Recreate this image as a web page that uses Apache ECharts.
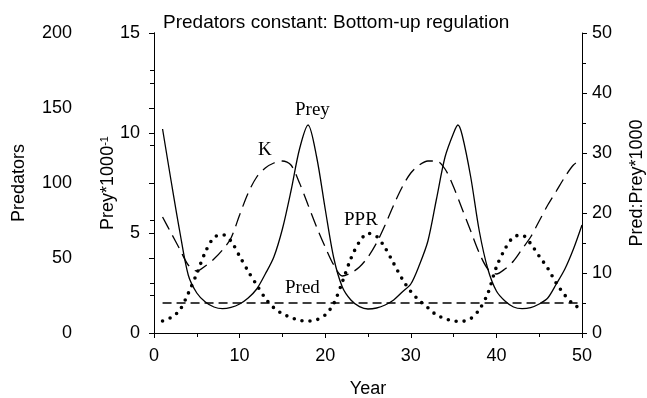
<!DOCTYPE html>
<html>
<head>
<meta charset="utf-8">
<title>Predators constant: Bottom-up regulation</title>
<script src="https://cdn.jsdelivr.net/npm/echarts@6/dist/echarts.min.js"></script>
<style>
  html, body { margin: 0; padding: 0; background: #fff; }
  #chart { width: 647px; height: 398px; }
</style>
</head>
<body>
<div id="chart"></div>
<script>
// values
var years = [1, 2, 3, 4, 5, 6, 7, 8, 9, 10, 11, 12, 13, 14, 15, 16, 17, 18, 19, 20,
  21, 22, 23, 24, 25, 26, 27, 28, 29, 30, 31, 32, 33, 34, 35, 36, 37, 38, 39, 40,
  41, 42, 43, 44, 45, 46, 47, 48, 49, 50];

// prey has an extra sample at its second, sharp peak
var preyYears = [1, 2, 3, 4, 5, 6, 7, 8, 9, 10, 11, 12, 13, 14, 15, 16, 17, 18, 19, 20,
  21, 22, 23, 24, 25, 26, 27, 28, 29, 30, 31, 32, 33, 34, 35, 35.5, 36, 37, 38, 39, 40,
  41, 42, 43, 44, 45, 46, 47, 48, 49, 50];

// Prey*1000^-1
var prey = [10.2, 7.6, 5.1, 2.9, 2.0, 1.55, 1.3, 1.22, 1.28, 1.45,
  1.75, 2.2, 2.95, 3.8, 5.2, 7.1, 9.2, 10.4, 8.8, 6.2,
  3.75, 2.3, 1.65, 1.32, 1.2, 1.25, 1.4, 1.65, 2.05, 2.45,
  3.4, 4.6, 6.7, 8.8, 10.0, 10.4, 9.9, 7.8, 5.1, 3.2, 2.1,
  1.6, 1.3, 1.22, 1.27, 1.45, 1.75, 2.45, 3.2, 4.2, 5.4];

// K, same scale as prey
var capacity = [5.8, 5.0, 4.2, 3.4, 3.1, 3.35, 3.7, 4.15, 4.75, 5.9,
  7.0, 7.8, 8.25, 8.5, 8.6, 8.4, 7.5, 6.4, 5.3, 4.3,
  3.4, 2.85, 3.0, 3.3, 3.8, 4.5, 5.4, 6.4, 7.3, 8.0,
  8.4, 8.6, 8.6, 8.2, 7.3, 6.2, 5.1, 4.0, 3.2, 2.95,
  3.2, 3.6, 4.2, 4.8, 5.6, 6.4, 7.1, 7.8, 8.4, 8.7];

// PPR, Pred:Prey*1000 (right axis)
var ppr = [2.0, 2.6, 3.8, 6.6, 9.9, 13.5, 15.9, 16.4, 15.3, 12.8,
  10.3, 8.0, 5.8, 4.2, 3.2, 2.6, 2.1, 2.0, 2.2, 3.0,
  4.9, 8.5, 12.4, 15.2, 16.6, 16.1, 14.2, 11.6, 9.0, 6.9,
  5.4, 4.2, 3.0, 2.4, 2.0, 1.95, 2.4, 3.9, 6.6, 11.0,
  14.0, 16.0, 16.3, 14.9, 12.8, 10.8, 8.3, 6.3, 4.8, 3.9];

// Predators, constant
var predYears = [1, 50];
var pred = [20, 20];

function pairs(xs, ys) {
  return xs.map(function (x, i) { return [x, ys[i]]; });
}

var sans = 'Liberation Sans, Arial, sans-serif';
var serif = 'Liberation Serif, Times New Roman, serif';

function yAxis(min, max, interval, extra) {
  var ax = {
    type: 'value',
    min: min,
    max: max,
    interval: interval,
    nameLocation: 'middle',
    nameRotate: 90,
    nameMoveOverlap: false,
    nameTextStyle: { color: '#000', fontFamily: sans, fontSize: 18 },
    axisLine: { show: true, lineStyle: { color: '#000', width: 1 } },
    axisTick: { show: true, length: 5, lineStyle: { color: '#000' } },
    minorTick: { show: true, splitNumber: 2, length: 4, lineStyle: { color: '#000' } },
    splitLine: { show: false },
    axisLabel: { color: '#000', fontFamily: sans, fontSize: 18 }
  };
  for (var k in extra) ax[k] = extra[k];
  return ax;
}

var chart = echarts.init(document.getElementById('chart'));

chart.setOption({
  backgroundColor: '#fff',
  animation: false,
  title: {
    text: 'Predators constant: Bottom-up regulation',
    left: 158,
    top: 8,
    textStyle: { color: '#000', fontFamily: sans, fontSize: 19, fontWeight: 'normal' }
  },
  grid: { left: 154, right: 65, top: 33, bottom: 65, outerBoundsMode: 'none', containLabel: false },
  xAxis: {
    type: 'value',
    min: 0,
    max: 50,
    interval: 10,
    name: 'Year',
    nameLocation: 'middle',
    nameGap: 47,
    nameTextStyle: { color: '#000', fontFamily: sans, fontSize: 18 },
    axisLine: { show: true, onZero: false, lineStyle: { color: '#000', width: 1 } },
    axisTick: { show: true, length: 5, lineStyle: { color: '#000' } },
    minorTick: { show: true, splitNumber: 2, length: 4, lineStyle: { color: '#000' } },
    splitLine: { show: false },
    axisLabel: { color: '#000', fontFamily: sans, fontSize: 18, margin: 14 }
  },
  yAxis: [
    yAxis(0, 200, 50, {
      name: 'Predators', position: 'left', offset: 70, nameGap: 56,
      axisLabel: { color: '#000', fontFamily: sans, fontSize: 18, margin: 12 }
    }),
    yAxis(0, 15, 5, {
      name: '{a|Prey*1000}{b|-1}', position: 'left', nameGap: 36,
      nameTextStyle: {
        color: '#000', fontFamily: sans, fontSize: 18,
        rich: {
          a: { fontFamily: sans, fontSize: 18, color: '#000' },
          b: { fontFamily: sans, fontSize: 11, color: '#000', verticalAlign: 'top', padding: [0, 0, 8, 0] }
        }
      },
      axisLabel: { color: '#000', fontFamily: sans, fontSize: 18, margin: 14 }
    }),
    yAxis(0, 50, 10, {
      name: 'Pred:Prey*1000', position: 'right', nameGap: 46,
      axisLabel: { color: '#000', fontFamily: sans, fontSize: 18, margin: 10 }
    })
  ],
  series: [
    {
      name: 'Prey', type: 'line', yAxisIndex: 1, smooth: 0.3, symbol: 'none',
      data: pairs(preyYears, prey),
      lineStyle: { color: '#000', width: 1.3 }
    },
    {
      name: 'K', type: 'line', yAxisIndex: 1, smooth: 0.3, symbol: 'none',
      data: pairs(years, capacity),
      lineStyle: { color: '#000', width: 1.3, type: [14, 7] }
    },
    {
      name: 'PPR', type: 'line', yAxisIndex: 2, smooth: 0.3, symbol: 'none',
      data: pairs(years, ppr),
      lineStyle: { color: '#000', width: 3.6, type: [0, 8], cap: 'round' }
    },
    {
      name: 'Pred', type: 'line', yAxisIndex: 0, symbol: 'none',
      data: pairs(predYears, pred),
      lineStyle: { color: '#000', width: 1.3, type: [9, 5] }
    }
  ],
  graphic: [
    { type: 'text', left: 295, top: 101, style: { text: 'Prey', font: '19px ' + serif, fill: '#000' } },
    { type: 'text', left: 258, top: 141, style: { text: 'K', font: '19px ' + serif, fill: '#000' } },
    { type: 'text', left: 344, top: 211, style: { text: 'PPR', font: '19px ' + serif, fill: '#000' } },
    { type: 'text', left: 285, top: 279, style: { text: 'Pred', font: '19px ' + serif, fill: '#000' } }
  ]
});
</script>
</body>
</html>
